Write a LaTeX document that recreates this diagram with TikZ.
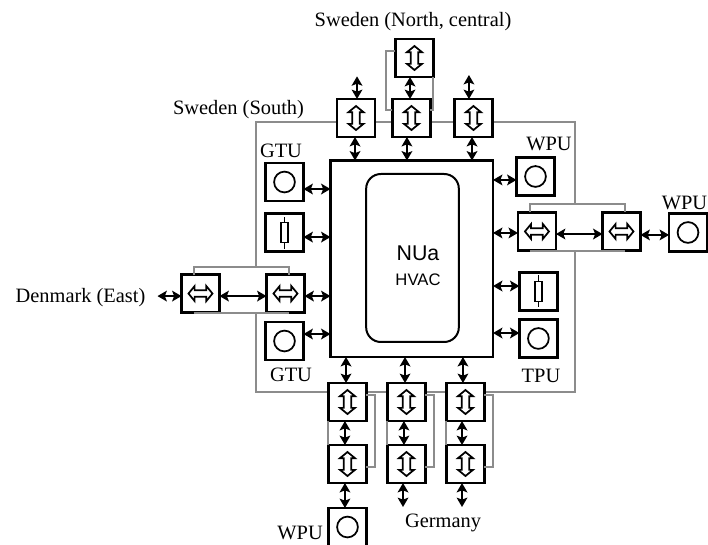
\documentclass[tikz,border=0pt]{standalone}
\usepackage{fontspec}
\setmainfont{Liberation Serif}
\setsansfont{Liberation Sans}
\usepackage{tikz}
\usetikzlibrary{arrows.meta,positioning}
\definecolor{Grid}{HTML}{8C8C8C}
\tikzset{
  unitbox/.style={draw=black, fill=white, line width=1.8pt, minimum size=28.5pt,
    inner sep=0pt, outer sep=0pt},
  iconline/.style={draw=black, line width=1.3pt, line join=miter},
  vconv/.style={unitbox, path picture={
    \draw[iconline, shift={(path picture bounding box.center)}]
      (0,-9pt) -- (5.6pt,-4.4pt) -- (2.8pt,-4.4pt) -- (2.8pt,4.4pt) -- (5.6pt,4.4pt) -- (0,9pt)
      -- (-5.6pt,4.4pt) -- (-2.8pt,4.4pt) -- (-2.8pt,-4.4pt) -- (-5.6pt,-4.4pt) -- cycle;}},
  hconv/.style={unitbox, path picture={
    \draw[iconline, shift={(path picture bounding box.center)}]
      (-9pt,0) -- (-4.4pt,5.6pt) -- (-4.4pt,2.4pt) -- (4.4pt,2.4pt) -- (4.4pt,5.6pt) -- (9pt,0)
      -- (4.4pt,-5.6pt) -- (4.4pt,-2.4pt) -- (-4.4pt,-2.4pt) -- (-4.4pt,-5.6pt) -- cycle;}},
  genunit/.style={unitbox, path picture={
    \draw[iconline] (path picture bounding box.center) circle (7.8pt);}},
  resunit/.style={unitbox, path picture={
    \draw[iconline, shift={(path picture bounding box.center)}]
      (-2.8pt,-7.5pt) rectangle (2.8pt,7.5pt) (0,7.5pt) -- (0,12pt) (0,-7.5pt) -- (0,-12pt);}},
  duplex/.style={{Stealth[length=7pt,width=8pt,inset=1.5pt]}-{Stealth[length=7pt,width=8pt,inset=1.5pt]}, line width=2pt},
  gridline/.style={draw=Grid, line width=1.5pt},
  lbl/.style={font=\fontsize{15.3}{17}\selectfont, inner sep=0pt},
}
\begin{document}
\begin{tikzpicture}[x=0.75pt,y=-0.75pt]
  \useasboundingbox (0,0) rectangle (708,545);
  \draw[gridline] (256,267) |- (575,122) -- (575,204);
  \draw[gridline] (575,252) |- (256,392) -- (256,314);

  \node[draw=black, fill=white, line width=2pt, minimum width=121.9pt, minimum height=147.4pt,
    inner sep=0pt, outer sep=0pt] (main) at (411.75,258.75) {};
  \node[draw=black, line width=1.5pt, rounded corners=11pt, minimum width=69.5pt, minimum height=126pt,
    inner sep=0pt] (core) at (412.5,258) {};
  \node[font=\sffamily\fontsize{16}{18}\selectfont, inner sep=0pt] (nua) at (418,253) {NUa};
  \node[font=\sffamily\fontsize{12.5}{14}\selectfont, inner sep=0pt] (hvac) at (418,280) {HVAC};

  \node[vconv, above right=17.6pt and 4.9pt of main.north west] (upA) {};
  \node[vconv, right=13.1pt of upA] (upB) {};
  \node[vconv, right=18pt of upB] (upC) {};
  \node[vconv, above=16.5pt of upB, xshift=2.25pt] (upD) {};

  \node[genunit, below left=1.9pt and 20.25pt of main.north west] (gtuA) {};
  \node[resunit, below=9.4pt of gtuA] (resA) {};
  \node[hconv, below=17.25pt of resA, xshift=.75pt] (dkB) {};
  \node[hconv, left=35.25pt of dkB] (dkA) {};
  \node[genunit, below=7.1pt of dkB, xshift=-.75pt] (gtuB) {};

  \node[genunit, below right=-2.25pt and 17.6pt of main.north east] (wpuA) {};
  \node[hconv, below=12.75pt of wpuA, xshift=1.1pt] (cvA) {};
  \node[hconv, right=34.9pt of cvA] (cvB) {};
  \node[genunit, right=21.4pt of cvB, yshift=-.75pt] (wpuB) {};
  \node[resunit, below=16.5pt of cvA, xshift=1.1pt] (resB) {};
  \node[genunit, below=6.75pt of resB] (tpuA) {};

  \node[vconv, below right=19.5pt and -1.5pt of main.south west] (loA) {};
  \node[vconv, right=15.75pt of loA] (loB) {};
  \node[vconv, right=15.75pt of loB] (loC) {};
  \node[vconv, below=18pt of loA] (geA) {};
  \node[vconv, below=18pt of loB] (geB) {};
  \node[vconv, below=18pt of loC] (geC) {};
  \node[genunit, below=18.75pt of geA] (wpuC) {};

  \draw[gridline] ([yshift=5.25pt]upD.west) -- ++(-6.75pt,0) |- ([yshift=6pt]upB.west);
  \draw[gridline] (upD.south east) |- ([yshift=6pt]upB.east);
  \draw[gridline] ([xshift=-4.9pt]dkA.north) -- ++(0,5.6pt) -| ([xshift=2.6pt]dkB.north);
  \draw[gridline] ([xshift=-4.9pt,yshift=-.7pt]dkA.south) -- ([xshift=2.6pt,yshift=-.7pt]dkB.south);
  \draw[gridline] ([xshift=-5.25pt]cvA.north) -- ++(0,6.4pt) -| ([xshift=2.6pt]cvB.north);
  \draw[gridline] ([xshift=-5.25pt,yshift=-.7pt]cvA.south) -- ([xshift=2.6pt,yshift=-.7pt]cvB.south);
  \foreach \a/\b in {loA/geA,loB/geB,loC/geC} {
    \draw[gridline] ([xshift=-.6pt]\a.south west) -- ([xshift=-.6pt]\b.north west);
    \draw[gridline] ([yshift=5.25pt]\a.east) -- ++(6.4pt,0) |- ([yshift=-2.25pt]\b.east);
  }

  \coordinate[above=17pt of upA.north] (upAend);
  \coordinate[above=18pt of upC.north] (upCend);
  \coordinate[left=18pt of dkA.west] (dkEnd);
  \coordinate[below=18pt of geB.south] (geBend);
  \coordinate[below=18pt of geC.south] (geCend);

  \draw[duplex] ([xshift=.75pt]upA.north) -- ([xshift=.75pt]upAend);
  \draw[duplex] ([xshift=-3.4pt]upC.north) -- ([xshift=-3.4pt]upCend);
  \draw[duplex] ([xshift=-1.1pt]upB.north) -- ([xshift=-1.1pt]upB.north |- upD.south);
  \foreach \a/\s in {upA/-.75,upB/-3.4,upC/-1.1}
    \draw[duplex] ([xshift=\s pt]\a.south) -- ([xshift=\s pt]\a.south |- main.north);
  \foreach \a/\s in {gtuA/-5.25,resA/-3.4,dkB/-1.9,gtuB/5.25}
    \draw[duplex] ([yshift=\s pt]\a.east) -- ([yshift=\s pt]\a.east -| main.west);
  \foreach \a/\s in {wpuA/-2.6,cvA/-1.1,resB/4.1,tpuA/4.1}
    \draw[duplex] ([yshift=\s pt]\a.west) -- ([yshift=\s pt]\a.west -| main.east);
  \draw[duplex] ([yshift=-1.9pt]dkEnd) -- ([yshift=-1.9pt]dkA.west);
  \draw[duplex] ([yshift=-1.9pt]dkA.east) -- ([yshift=-1.9pt]dkB.west);
  \draw[duplex] ([yshift=-1.9pt]cvA.east) -- ([yshift=-1.9pt]cvB.west);
  \draw[duplex] ([yshift=-2.6pt]cvB.east) -- ([yshift=-2.6pt]cvB.east -| wpuB.west);
  \foreach \a/\s in {loA/-1.1,loB/-1.1,loC/-1.9}
    \draw[duplex] ([xshift=\s pt]\a.north) -- ([xshift=\s pt]\a.north |- main.south);
  \foreach \a/\b/\s in {loA/geA/-1.9,loB/geB/-1.9,loC/geC/-2.6}
    \draw[duplex] ([xshift=\s pt]\a.south) -- ([xshift=\s pt]\b.north);
  \draw[duplex] ([xshift=-1.9pt]geA.south) -- ([xshift=-1.9pt]geA.south |- wpuC.north);
  \draw[duplex] ([xshift=-2.6pt]geB.south) -- ([xshift=-2.6pt]geBend);
  \draw[duplex] ([xshift=-2.6pt]geC.south) -- ([xshift=-2.6pt]geCend);

  \node[lbl] (swN) at (413,22) {Sweden (North, central)};
  \node[lbl] (swS) at (238.5,110) {Sweden (South)};
  \node[lbl] (gtuAtxt) at (281,151) {GTU};
  \node[lbl] (gtuBtxt) at (291,375) {GTU};
  \node[lbl] (wpuAtxt) at (549,144) {WPU};
  \node[lbl] (wpuBtxt) at (684.5,203) {WPU};
  \node[lbl] (tpuTxt) at (541,375.5) {TPU};
  \node[lbl] (dkTxt) at (80.5,298) {Denmark (East)};
  \node[lbl] (geTxt) at (443,522.5) {Germany};
  \node[lbl, anchor=east] (wpuCtxt) at (323,533) {WPU};
\end{tikzpicture}
\end{document}
